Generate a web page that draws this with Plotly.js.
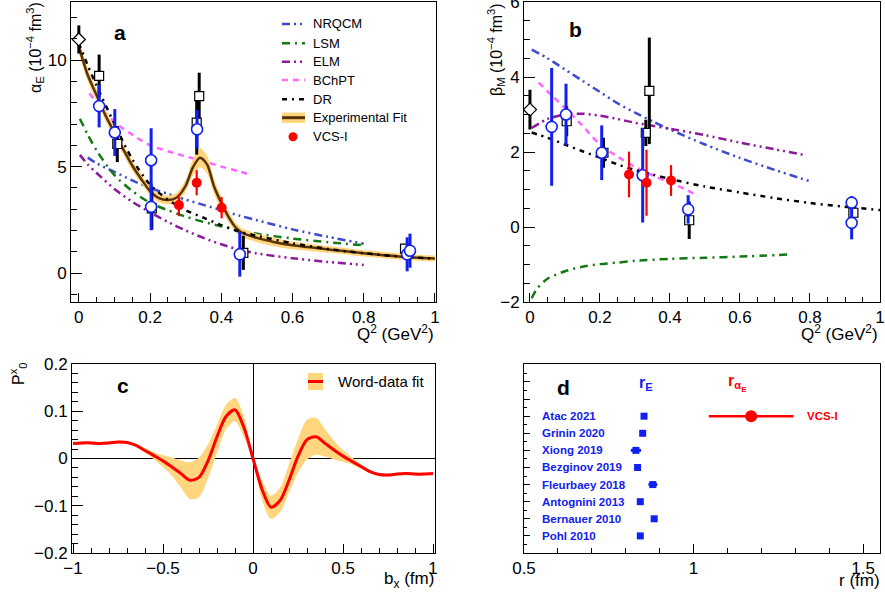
<!DOCTYPE html>
<html>
<head>
<meta charset="utf-8">
<script src="https://cdn.plot.ly/plotly-3.0.1.min.js"></script>
<style>html,body{margin:0;padding:0;background:#fff}#chart{width:885px;height:596px}</style>
</head>
<body>
<div id="chart"></div>
<script>
// ---------- Panel a : alpha_E vs Q^2 ----------
const fitQ   = [0, 0.025, 0.05, 0.075, 0.1, 0.125, 0.15, 0.175, 0.2, 0.225, 0.25, 0.275, 0.3, 0.32, 0.34, 0.36, 0.38, 0.4, 0.42, 0.44, 0.46, 0.5, 0.55, 0.6, 0.7, 0.8, 0.9, 1.0];
const fitA   = [10.65, 9.3, 8.35, 7.4, 6.6, 5.8, 5.05, 4.42, 3.85, 3.52, 3.43, 3.55, 4.1, 4.95, 5.42, 5.1, 4.05, 3.3, 2.65, 2.15, 1.88, 1.65, 1.45, 1.3, 1.11, 0.93, 0.78, 0.68];
const fitErr = [0.35, 0.3, 0.28, 0.26, 0.25, 0.24, 0.23, 0.22, 0.2, 0.2, 0.2, 0.22, 0.28, 0.38, 0.45, 0.42, 0.35, 0.3, 0.25, 0.22, 0.2, 0.2, 0.2, 0.18, 0.16, 0.15, 0.14, 0.14];

const aNrqQ = [0.025, 0.05, 0.1, 0.15, 0.2, 0.25, 0.3, 0.35, 0.4, 0.45, 0.5, 0.6, 0.7, 0.8];
const aNrqV = [5.42, 5.15, 4.75, 4.35, 4.0, 3.72, 3.45, 3.2, 2.95, 2.7, 2.48, 2.05, 1.7, 1.38];
const aLsmQ = [0.003, 0.025, 0.05, 0.1, 0.15, 0.2, 0.25, 0.3, 0.35, 0.4, 0.45, 0.5, 0.6, 0.7, 0.8];
const aLsmV = [7.25, 6.5, 5.75, 4.6, 3.85, 3.3, 2.95, 2.65, 2.4, 2.2, 2.0, 1.85, 1.62, 1.45, 1.3];
const aElmQ = [0.003, 0.025, 0.05, 0.1, 0.15, 0.2, 0.25, 0.3, 0.35, 0.4, 0.45, 0.5, 0.6, 0.7, 0.8];
const aElmV = [5.55, 5.1, 4.7, 3.95, 3.35, 2.85, 2.4, 2.0, 1.65, 1.35, 1.1, 0.92, 0.7, 0.52, 0.38];
const aBchQ = [0.03, 0.05, 0.1, 0.15, 0.2, 0.25, 0.3, 0.35, 0.4, 0.45, 0.48];
const aBchV = [8.44, 8.0, 7.1, 6.5, 6.0, 5.72, 5.48, 5.25, 5.0, 4.78, 4.62];
const aDrQ  = [0, 0.025, 0.05, 0.1, 0.15, 0.2, 0.25, 0.3, 0.35, 0.4, 0.45, 0.5, 0.6, 0.7, 0.8, 0.9, 1.0];
const aDrV  = [10.8, 9.75, 8.8, 7.0, 5.35, 4.15, 3.45, 2.95, 2.6, 2.25, 1.95, 1.75, 1.4, 1.13, 0.93, 0.78, 0.68];

const aSqQ = [0.057, 0.108, 0.205, 0.331, 0.338, 0.462, 0.916];
const aSqV = [9.26, 6.06, 3.04, 7.06, 8.31, 0.95, 1.15];
const aSqE = [1.0, 0.85, 1.0, 1.5, 1.1, 0.8, 0.2];
const aCiQ = [0.057, 0.101, 0.203, 0.203, 0.332, 0.452, 0.922, 0.93];
const aCiV = [7.84, 6.6, 5.3, 3.11, 6.75, 0.88, 0.88, 1.05];
const aCiE = [1.0, 1.1, 1.5, 1.1, 0.9, 1.05, 0.8, 0.8];
const aDiQ = [0];
const aDiV = [10.97];
const aDiE = [0.66];
const aVcsQ = [0.281, 0.331, 0.401];
const aVcsV = [3.19, 4.24, 3.07];
const aVcsE = [0.52, 0.59, 0.5];

// ---------- Panel b : beta_M vs Q^2 ----------
const bNrqQ = [0.005, 0.05, 0.1, 0.15, 0.2, 0.25, 0.3, 0.35, 0.4, 0.5, 0.6, 0.7, 0.8];
const bNrqV = [4.73, 4.5, 4.2, 3.9, 3.6, 3.3, 3.05, 2.82, 2.6, 2.2, 1.84, 1.52, 1.22];
const bLsmQ = [0.005, 0.02, 0.05, 0.1, 0.15, 0.2, 0.25, 0.3, 0.4, 0.5, 0.6, 0.75];
const bLsmV = [-1.9, -1.65, -1.38, -1.18, -1.06, -0.99, -0.95, -0.9, -0.85, -0.82, -0.79, -0.73];
const bElmQ = [0.005, 0.05, 0.1, 0.15, 0.2, 0.25, 0.3, 0.35, 0.4, 0.5, 0.6, 0.7, 0.79];
const bElmV = [2.64, 2.88, 3.0, 3.02, 2.97, 2.88, 2.78, 2.7, 2.62, 2.45, 2.25, 2.07, 1.91];
const bBchQ = [0.025, 0.05, 0.1, 0.15, 0.2, 0.25, 0.3, 0.35, 0.4, 0.45, 0.48];
const bBchV = [3.85, 3.62, 3.17, 2.7, 2.2, 1.88, 1.6, 1.38, 1.18, 0.98, 0.82];
const bDrQ  = [0.005, 0.05, 0.1, 0.15, 0.2, 0.25, 0.3, 0.35, 0.4, 0.5, 0.6, 0.7, 0.8, 0.9, 1.0];
const bDrV  = [2.52, 2.38, 2.2, 2.02, 1.85, 1.67, 1.52, 1.4, 1.28, 1.08, 0.92, 0.77, 0.64, 0.54, 0.45];

const bSqQ = [0.105, 0.21, 0.331, 0.341, 0.455, 0.924];
const bSqV = [2.82, 1.98, 2.51, 3.63, 0.18, 0.38];
const bSqE = [0.4, 0.4, 0.35, 1.42, 0.5, 0.25];
const bCiQ = [0.062, 0.103, 0.205, 0.322, 0.452, 0.919, 0.919];
const bCiV = [2.67, 3.0, 1.98, 1.38, 0.47, 0.65, 0.11];
const bCiE = [1.57, 0.82, 0.73, 1.26, 0.38, 0.17, 0.44];
const bDiQ = [0];
const bDiV = [3.13];
const bDiE = [0.53];
const bVcsQ = [0.283, 0.333, 0.403];
const bVcsV = [1.4, 1.18, 1.24];
const bVcsE = [0.61, 0.88, 0.41];

// ---------- Panel c : P0x vs bx ----------
const cX = [-1.0, -0.95, -0.9, -0.85, -0.8, -0.75, -0.7, -0.65, -0.6, -0.55, -0.5, -0.45, -0.4, -0.35, -0.3, -0.25, -0.2, -0.15, -0.1, -0.05, 0.0,
            0.05, 0.1, 0.15, 0.2, 0.25, 0.3, 0.35, 0.4, 0.45, 0.5, 0.55, 0.6, 0.65, 0.7, 0.75, 0.8, 0.85, 0.9, 0.95, 1.0];
const cY = [0.032, 0.033, 0.033, 0.032, 0.033, 0.035, 0.034, 0.028, 0.017, 0.006, -0.005, -0.018, -0.032, -0.046, -0.040, -0.005, 0.046, 0.089, 0.103, 0.065, 0.0,
            -0.065, -0.103, -0.089, -0.046, 0.005, 0.040, 0.046, 0.032, 0.018, 0.005, -0.006, -0.017, -0.028, -0.034, -0.035, -0.033, -0.032, -0.033, -0.033, -0.032];
const cUp = [0.035, 0.036, 0.036, 0.035, 0.036, 0.038, 0.037, 0.031, 0.022, 0.013, 0.007, 0.002, -0.004, -0.008, 0.002, 0.030, 0.072, 0.114, 0.128, 0.088, 0.004,
             -0.045, -0.079, -0.062, -0.012, 0.042, 0.082, 0.086, 0.062, 0.037, 0.018, 0.002, -0.012, -0.025, -0.031, -0.032, -0.030, -0.029, -0.030, -0.030, -0.029];
const cLo = [0.029, 0.030, 0.030, 0.029, 0.030, 0.032, 0.031, 0.025, 0.012, -0.002, -0.018, -0.037, -0.062, -0.086, -0.082, -0.042, 0.012, 0.062, 0.079, 0.045, -0.004,
             -0.088, -0.128, -0.114, -0.072, -0.030, -0.002, 0.008, 0.004, -0.002, -0.007, -0.013, -0.022, -0.031, -0.037, -0.038, -0.036, -0.035, -0.036, -0.036, -0.035];

// ---------- Panel d : radii ----------
const radNames = ['Atac 2021', 'Grinin 2020', 'Xiong 2019', 'Bezginov 2019', 'Fleurbaey 2018', 'Antognini 2013', 'Bernauer 2010', 'Pohl 2010'];
const radVal   = [0.854, 0.850, 0.830, 0.835, 0.880, 0.843, 0.884, 0.843];
const radErr   = [0.008, 0.003, 0.015, 0.006, 0.013, 0.001, 0.006, 0.001];
const rAlphaVal = [1.17];
const rAlphaErr = [0.125];

// ---------- styling ----------
const FONT = 'Liberation Sans, Arial, Helvetica, sans-serif';
const C_NRQ = '#3f4ad0', C_LSM = '#137a13', C_ELM = '#8c1a9a', C_BCH = '#ff66ff', C_DR = '#000000';
const C_BLUE = '#1020f0', C_RED = '#ff0000', C_FIT = '#5a3208', C_BAND = '#ffd67e';
const D_NRQ = '8px,4px,2px,4px,2px,4px', D_LSM = '8px,5px,2px,5px', D_ELM = '8px,4px,2px,4px,2px,4px', D_BCH = '6px,5px', D_DR = '5px,5px,2px,5px';

const px = x => x / 885;
const py = y => 1 - y / 596;

function curve(x, y, color, dash, xa, ya) {
  return {x: x, y: y, mode: 'lines', xaxis: xa, yaxis: ya, hoverinfo: 'skip',
          line: {color: color, width: 2.5, dash: dash, shape: 'spline', smoothing: 0.8}};
}
function pts(x, y, e, sym, size, mcol, lcol, lw, ecol, eth, xa, ya) {
  return {x: x, y: y, mode: 'markers', xaxis: xa, yaxis: ya, hoverinfo: 'skip',
          marker: {symbol: sym, size: size, color: mcol, line: {color: lcol, width: lw}},
          error_y: {type: 'data', array: e, visible: true, color: ecol, thickness: eth, width: 0}};
}

const traces = [];
// panel a
traces.push(curve(aNrqQ, aNrqV, C_NRQ, D_NRQ, 'x', 'y'));
traces.push(curve(aLsmQ, aLsmV, C_LSM, D_LSM, 'x', 'y'));
traces.push(curve(aElmQ, aElmV, C_ELM, D_ELM, 'x', 'y'));
traces.push(curve(aBchQ, aBchV, C_BCH, D_BCH, 'x', 'y'));
traces.push({x: fitQ, y: fitA.map((v, i) => v + fitErr[i]), mode: 'lines', xaxis: 'x', yaxis: 'y', hoverinfo: 'skip',
             line: {width: 0, shape: 'spline', smoothing: 0.8, color: C_BAND}});
traces.push({x: fitQ, y: fitA.map((v, i) => v - fitErr[i]), mode: 'lines', xaxis: 'x', yaxis: 'y', hoverinfo: 'skip',
             fill: 'tonexty', fillcolor: C_BAND, line: {width: 0, shape: 'spline', smoothing: 0.8, color: C_BAND}});
traces.push({x: fitQ, y: fitA, mode: 'lines', xaxis: 'x', yaxis: 'y', hoverinfo: 'skip',
             line: {color: C_FIT, width: 2.5, shape: 'spline', smoothing: 0.8}});
traces.push(curve(aDrQ, aDrV, C_DR, D_DR, 'x', 'y'));
traces.push(pts(aSqQ, aSqV, aSqE, 'square', 9, 'white', 'black', 1.2, 'black', 3, 'x', 'y'));
traces.push(pts(aCiQ, aCiV, aCiE, 'circle', 11, 'white', C_BLUE, 1.6, C_BLUE, 3, 'x', 'y'));
traces.push(pts(aDiQ, aDiV, aDiE, 'diamond', 10, 'white', 'black', 1.2, 'black', 3, 'x', 'y'));
traces.push(pts(aVcsQ, aVcsV, aVcsE, 'circle', 10, C_RED, C_RED, 0, C_RED, 2.2, 'x', 'y'));
// panel b
traces.push(curve(bNrqQ, bNrqV, C_NRQ, D_NRQ, 'x2', 'y2'));
traces.push(curve(bLsmQ, bLsmV, C_LSM, D_LSM, 'x2', 'y2'));
traces.push(curve(bElmQ, bElmV, C_ELM, D_ELM, 'x2', 'y2'));
traces.push(curve(bBchQ, bBchV, C_BCH, D_BCH, 'x2', 'y2'));
traces.push(curve(bDrQ, bDrV, C_DR, D_DR, 'x2', 'y2'));
traces.push(pts(bSqQ, bSqV, bSqE, 'square', 9, 'white', 'black', 1.2, 'black', 3, 'x2', 'y2'));
traces.push(pts(bCiQ, bCiV, bCiE, 'circle', 11, 'white', C_BLUE, 1.6, C_BLUE, 3, 'x2', 'y2'));
traces.push(pts(bDiQ, bDiV, bDiE, 'diamond', 10, 'white', 'black', 1.2, 'black', 3, 'x2', 'y2'));
traces.push(pts(bVcsQ, bVcsV, bVcsE, 'circle', 10, C_RED, C_RED, 0, C_RED, 2.2, 'x2', 'y2'));
// panel c
traces.push({x: cX, y: cUp, mode: 'lines', xaxis: 'x3', yaxis: 'y3', hoverinfo: 'skip',
             line: {width: 0, shape: 'spline', smoothing: 0.8, color: C_BAND}});
traces.push({x: cX, y: cLo, mode: 'lines', xaxis: 'x3', yaxis: 'y3', hoverinfo: 'skip', fill: 'tonexty', fillcolor: C_BAND,
             line: {width: 0, shape: 'spline', smoothing: 0.8, color: C_BAND}});
traces.push({x: cX, y: cY, mode: 'lines', xaxis: 'x3', yaxis: 'y3', hoverinfo: 'skip',
             line: {color: C_RED, width: 3, shape: 'spline', smoothing: 0.8}});
// panel d
const radRows = radNames.map((n, i) => radNames.length - i);
traces.push({x: radVal, y: radRows, mode: 'markers', xaxis: 'x4', yaxis: 'y4', hoverinfo: 'skip',
             marker: {symbol: 'square', size: 7, color: C_BLUE},
             error_x: {type: 'data', array: radErr, visible: true, color: C_BLUE, thickness: 3, width: 0}});
traces.push({x: rAlphaVal, y: [radRows[0]], mode: 'markers', xaxis: 'x4', yaxis: 'y4', hoverinfo: 'skip',
             marker: {symbol: 'circle', size: 12, color: C_RED},
             error_x: {type: 'data', array: rAlphaErr, visible: true, color: C_RED, thickness: 2.5, width: 0}});

function axis(extra) {
  return Object.assign({showline: true, linecolor: 'black', linewidth: 1, mirror: true, ticks: 'inside',
    tickcolor: 'black', tickwidth: 1, showgrid: false, zeroline: false, fixedrange: true, ticklabeloverflow: 'allow',
    tickfont: {family: FONT, size: 17, color: 'black'}}, extra);
}
function minor(d, len) { return {dtick: d, ticklen: len, tickcolor: 'black', ticks: 'inside', showgrid: false}; }

const ann = [];
function txt(x, y, t, size, opts) {
  ann.push(Object.assign({xref: 'paper', yref: 'paper', x: px(x), y: py(y), text: t, showarrow: false,
    xanchor: 'center', yanchor: 'middle', font: {family: FONT, size: size, color: 'black'}}, opts || {}));
}
// panel labels
txt(120, 32, '<b>a</b>', 21);
txt(575, 30, '<b>b</b>', 21);
txt(123, 385, '<b>c</b>', 21);
txt(563, 388, '<b>d</b>', 21);
// axis titles
txt(35, 48, 'α<sub>E</sub> (10<sup>−4</sup> fm<sup>3</sup>)', 16, {textangle: -90});
txt(496, 50, 'β<sub>M</sub> (10<sup>−4</sup> fm<sup>3</sup>)', 16, {textangle: -90});
txt(18, 374, 'P<sup>x</sup><sub>0</sub>', 16, {textangle: -90});
txt(436, 333, 'Q<sup>2</sup> (GeV<sup>2</sup>)', 17, {xanchor: 'right'});
txt(880, 333, 'Q<sup>2</sup> (GeV<sup>2</sup>)', 17, {xanchor: 'right'});
txt(436, 580, 'b<sub>x</sub> (fm)', 17, {xanchor: 'right'});
txt(882, 580, 'r (fm)', 17, {xanchor: 'right'});
// panel a legend
const legRows = [24, 43.3, 61.7, 80, 99.3, 117.7, 136.7];
const legNames = ['NRQCM', 'LSM', 'ELM', 'BChPT', 'DR', 'Experimental Fit', 'VCS-I'];
legNames.forEach((n, i) => txt(311, legRows[i], n, 13, {xanchor: 'left'}));
// panel c legend
txt(336, 381.5, 'Word-data fit', 15, {xanchor: 'left'});
// panel d labels
radNames.forEach((n, i) => ann.push({xref: 'x4', yref: 'y4', x: 0.548, y: radRows[i], text: '<b>' + n + '</b>', showarrow: false,
  xanchor: 'left', yanchor: 'middle', font: {family: FONT, size: 11.5, color: C_BLUE}}));
ann.push({xref: 'x4', yref: 'y4', x: 1.328, y: radRows[0], text: '<b>VCS-I</b>', showarrow: false,
  xanchor: 'left', yanchor: 'middle', font: {family: FONT, size: 11.5, color: C_RED}});
txt(646, 383, '<b>r<sub>E</sub></b>', 16, {font: {family: FONT, size: 16, color: C_BLUE}});
txt(737, 383, '<b>r<sub>α<sub>E</sub></sub></b>', 16, {font: {family: FONT, size: 16, color: C_RED}});

const shapes = [];
function legLine(y, color, dash, w) {
  shapes.push({type: 'line', xref: 'paper', yref: 'paper', x0: px(282), x1: px(305), y0: py(y), y1: py(y),
               line: {color: color, width: w || 2.5, dash: dash}});
}
legLine(legRows[0], C_NRQ, D_NRQ);
legLine(legRows[1], C_LSM, D_LSM);
legLine(legRows[2], C_ELM, D_ELM);
legLine(legRows[3], C_BCH, D_BCH);
legLine(legRows[4], C_DR, D_DR);
shapes.push({type: 'rect', xref: 'paper', yref: 'paper', x0: px(282), x1: px(305), y0: py(123), y1: py(112.5),
             fillcolor: C_BAND, line: {width: 0}});
legLine(legRows[5], C_FIT, 'solid', 3);
shapes.push({type: 'circle', xref: 'paper', yref: 'paper', x0: px(288.5), x1: px(297.5), y0: py(141.2), y1: py(132.2),
             fillcolor: C_RED, line: {width: 0}});
// panel c legend symbol
shapes.push({type: 'rect', xref: 'paper', yref: 'paper', x0: px(308), x1: px(323), y0: py(390), y1: py(373),
             fillcolor: C_BAND, line: {width: 0}});
shapes.push({type: 'line', xref: 'paper', yref: 'paper', x0: px(308), x1: px(323), y0: py(381.5), y1: py(381.5),
             line: {color: C_RED, width: 3}});

const layout = {
  width: 885, height: 596, margin: {l: 0, r: 0, t: 0, b: 0}, paper_bgcolor: 'white', plot_bgcolor: 'white',
  showlegend: false, font: {family: FONT, color: 'black'},
  xaxis: axis({domain: [px(71), px(436)], range: [-0.022, 1.003], anchor: 'y', dtick: 0.2, tick0: 0, ticklen: 9, minor: minor(0.05, 5)}),
  yaxis: axis({domain: [py(302), py(2)], range: [-1.36, 12.73], anchor: 'x', dtick: 5, tick0: 0, ticklen: 11, minor: minor(1, 6)}),
  xaxis2: axis({domain: [px(524), px(880)], range: [-0.017, 1.0], anchor: 'y2', dtick: 0.2, tick0: 0, ticklen: 9, minor: minor(0.05, 5)}),
  yaxis2: axis({domain: [py(302), py(2)], range: [-2, 6], anchor: 'x2', dtick: 2, tick0: 0, ticklen: 11, minor: minor(0.5, 6)}),
  xaxis3: axis({domain: [px(72), px(435)], range: [-1.0056, 1.011], anchor: 'y3', dtick: 0.5, tick0: 0, ticklen: 9, minor: minor(0.1, 5),
                zeroline: true, zerolinecolor: 'black', zerolinewidth: 1}),
  yaxis3: axis({domain: [py(553), py(364)], range: [-0.2, 0.2], anchor: 'x3', dtick: 0.1, tick0: 0, ticklen: 11, minor: minor(0.02, 6),
                zeroline: true, zerolinecolor: 'black', zerolinewidth: 1}),
  xaxis4: axis({domain: [px(524), px(880)], range: [0.5, 1.55], anchor: 'y4', dtick: 0.5, tick0: 0, ticklen: 9, minor: minor(0.1, 5)}),
  yaxis4: axis({domain: [py(553), py(364)], range: [0, 11.05], anchor: 'x4', dtick: 1, tick0: 0, ticklen: 6, showticklabels: false, minor: minor(0.5, 3)}),
  annotations: ann, shapes: shapes
};

Plotly.newPlot('chart', traces, layout, {staticPlot: true, displayModeBar: false});
</script>
</body>
</html>
